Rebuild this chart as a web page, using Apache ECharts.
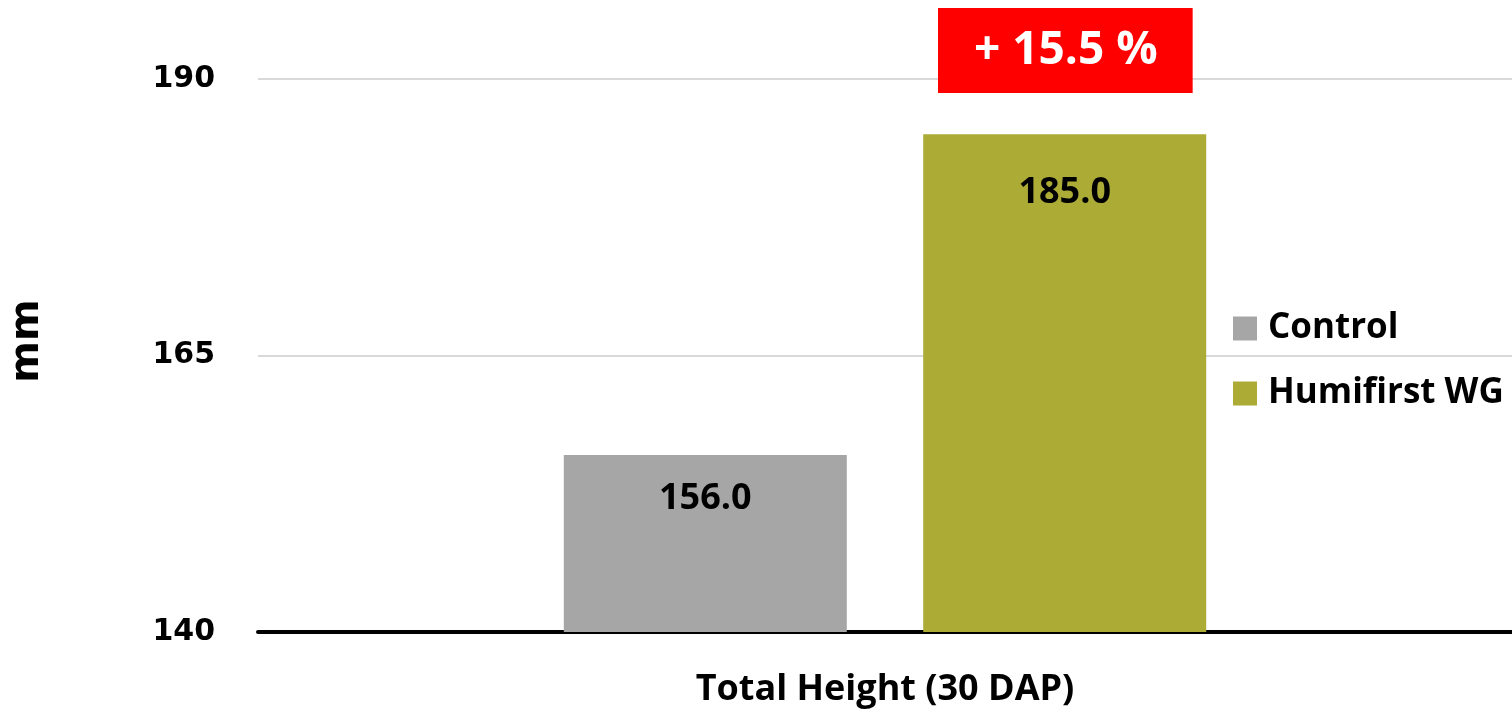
<!DOCTYPE html>
<html><head><meta charset="utf-8">
<script src="https://cdn.jsdelivr.net/npm/echarts@6/dist/echarts.min.js"></script>
<style>html,body{margin:0;padding:0;background:#fff}#c{width:1512px;height:709px}</style>
</head><body><div id="c"></div>
<script>
const categories = ['Total Height (30 DAP)'];
const seriesNames = ['Control', 'Humifirst WG'];
const controlValues = [156.0];
const humifirstValues = [185.0];
const yTicks = [140, 165, 190];
const badgeText = '+ 15.5 %';
const yAxisName = 'mm';

const chart = echarts.init(document.getElementById('c'));
const calibri = "'Open Sans', Lato, sans-serif";
chart.setOption({
  animation: false,
  title: {
    text: badgeText,
    left: 938, top: 8,
    backgroundColor: '#ff0000',
    padding: [12, 35, 12, 36],
    textStyle: {color: '#fff', fontSize: 46, fontWeight: 'bold', fontFamily: calibri, lineHeight: 61}
  },
  graphic: [{
    type: 'text', x: 28, y: 341, rotation: Math.PI / 2,
    style: {text: yAxisName, fontSize: 40, fontWeight: 'bold', fill: '#000',
      fontFamily: "'DejaVu Sans', sans-serif", align: 'center', verticalAlign: 'middle'}
  }],
  legend: {
    orient: 'vertical', left: 1228, top: 306,
    itemWidth: 24, itemHeight: 24, itemGap: 30,
    icon: 'rect',
    textStyle: {fontSize: 35, fontWeight: 'bold', color: '#000', fontFamily: calibri, padding: [0,0,0,6]},
    data: seriesNames
  },
  grid: {left: 258, right: 0, top: 79, bottom: 77},
  xAxis: {
    type: 'category', data: categories,
    axisLine: {lineStyle: {color: '#000', width: 4}},
    axisTick: {show: false},
    axisLabel: {fontSize: 36, fontWeight: 'bold', color: '#000', fontFamily: calibri, margin: 40}
  },
  yAxis: {
    type: 'value', min: yTicks[0], max: yTicks[yTicks.length-1], interval: yTicks[1]-yTicks[0],
    axisLine: {show: false}, axisTick: {show: false},
    axisLabel: {fontSize: 30, fontWeight: 'bold', color: '#000', fontFamily: "'DejaVu Sans', sans-serif", margin: 43},
    splitLine: {lineStyle: {color: '#d9d9d9', width: 2}}
  },
  series: [
    {name: seriesNames[0], type: 'bar', data: controlValues, barWidth: 283, barGap: '27%',
     itemStyle: {color: '#a6a6a6'},
     label: {show: true, position: 'insideTop', distance: 26, formatter: p => p.value.toFixed(1),
       fontSize: 36, fontWeight: 'bold', color: '#000', fontFamily: calibri}},
    {name: seriesNames[1], type: 'bar', data: humifirstValues, barWidth: 283,
     itemStyle: {color: '#abab36'},
     label: {show: true, position: 'insideTop', distance: 40, formatter: p => p.value.toFixed(1),
       fontSize: 36, fontWeight: 'bold', color: '#000', fontFamily: calibri}}
  ]
});
</script></body></html>
